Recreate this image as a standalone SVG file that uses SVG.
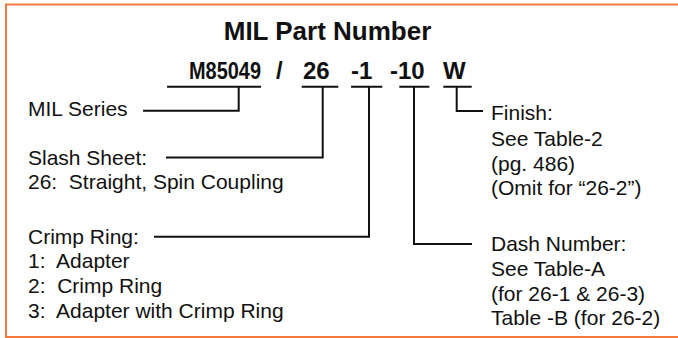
<svg xmlns="http://www.w3.org/2000/svg" width="678" height="338" viewBox="0 0 678 338">
<style>
.t{font-family:"Liberation Sans",Arial,Helvetica,sans-serif;font-size:21px;fill:#111}
.b{font-family:"Liberation Sans",Arial,Helvetica,sans-serif;font-weight:bold;fill:#111}
.c{fill:none;stroke:#111;stroke-width:2}
</style>
<path d="M690 4.5H6V337H690" fill="#fff" stroke="#f47a3c" stroke-width="2"/>
<g id="title"><text class="b" x="327.5" y="40" font-size="26" text-anchor="middle">MIL Part Number</text></g>
<g id="partnumber">
<text class="b" font-size="24" x="189" y="79" textLength="72" lengthAdjust="spacingAndGlyphs">M85049</text>
<text class="b" font-size="24" x="276" y="79">/</text>
<text class="b" font-size="24" x="303" y="79">26</text>
<text class="b" font-size="24" x="351" y="79">-1</text>
<text class="b" font-size="24" x="390" y="79">-10</text>
<text class="b" font-size="24" x="443" y="79">W</text>
</g>
<g id="mil-series"><text class="t" x="28" y="116">MIL Series</text></g>
<g id="slash-sheet"><text class="t" x="28" y="164.5">Slash Sheet:</text><text class="t" x="28" y="189" xml:space="preserve">26:  Straight, Spin Coupling</text></g>
<g id="crimp-ring"><text class="t" x="28" y="243.5">Crimp Ring:</text><text class="t" x="28" y="268" xml:space="preserve">1:  Adapter</text><text class="t" x="28" y="293" xml:space="preserve">2:  Crimp Ring</text><text class="t" x="28" y="318" xml:space="preserve">3:  Adapter with Crimp Ring</text></g>
<g id="finish"><text class="t" x="491" y="120">Finish:</text><text class="t" x="491" y="145.5">See Table-2</text><text class="t" x="491" y="170.5">(pg. 486)</text><text class="t" x="491" y="195">(Omit for “26-2”)</text></g>
<g id="dash-number"><text class="t" x="491" y="250.5">Dash Number:</text><text class="t" x="491" y="275.5">See Table-A</text><text class="t" x="491" y="300.5">(for 26-1 &amp; 26-3)</text><text class="t" x="491" y="325">Table -B (for 26-2)</text></g>
<g id="connectors" class="c">
<path d="M167 86.7H261M238.7 86.7V110.7H143"/>
<path d="M301.7 86.7H338.3M322.7 86.7V157.5H166"/>
<path d="M351 86.7H382.3M369 86.7V236.7H154"/>
<path d="M399.3 86.7H429.3M414 86.7V244H472"/>
<path d="M443.3 86.7H471.7M456.7 86.7V111H483"/>
</g>
</svg>
